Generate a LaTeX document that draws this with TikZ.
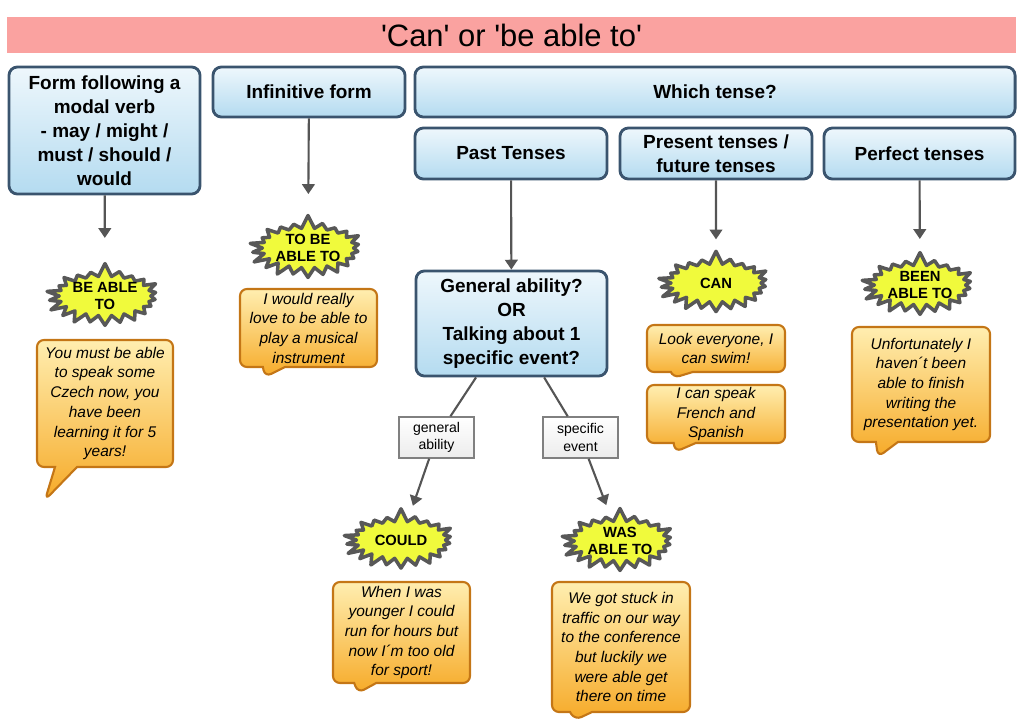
\documentclass[tikz,border=0pt]{standalone}
\usepackage{fontspec}
\setmainfont{Liberation Sans}
\newfontfamily\titlefont{Liberation Sans}[Ligatures=TeXOff]
\usetikzlibrary{shapes.symbols,shapes.callouts,arrows.meta}
\definecolor{T}{RGB}{250,162,160}
\definecolor{Bline}{RGB}{58,84,110}
\definecolor{Btop}{RGB}{238,247,252}
\definecolor{Bbot}{RGB}{180,219,240}
\definecolor{Star}{RGB}{240,250,60}
\definecolor{Sline}{RGB}{88,88,88}
\definecolor{Otop}{RGB}{255,238,176}
\definecolor{Obot}{RGB}{246,170,40}
\definecolor{Oline}{RGB}{196,118,22}
\definecolor{A}{RGB}{85,85,85}
\tikzset{
  tensebox/.style={draw=Bline,line width=2pt,rounded corners=6pt,top color=Btop,bottom color=Bbot,
    font=\fontsize{13.5}{17}\selectfont\bfseries,align=center,inner sep=2pt},
  smallbox/.style={draw=gray,line width=1pt,top color=white,bottom color=gray!15,
    font=\fontsize{10}{12.5}\selectfont,align=center,minimum width=1.875cm,minimum height=1.025cm,inner sep=1pt},
  burst/.style={starburst,starburst points=22,starburst point height=0.35cm,random starburst=7,
    draw=Sline,line width=2.5pt,line join=round,fill=Star,font=\fontsize{10.5}{12.5}\selectfont\bfseries,
    align=center,inner sep=0pt},
  speech/.style={rectangle callout,draw=Oline,line width=1.5pt,rounded corners=5pt,top color=Otop,bottom color=Obot,
    font=\fontsize{11}{14}\selectfont\itshape,align=center,inner sep=1pt,callout pointer width=0.55cm},
  arr/.style={draw=A,line width=1.5pt,-{Triangle[width=9pt,length=7pt]}},
  link/.style={draw=A,line width=1.5pt}
}
\begin{document}
\begin{tikzpicture}[x=0.025cm,y=-0.025cm]
\useasboundingbox (0,0) rectangle (1024,724);
\node[fill=T,minimum width=25.225cm,minimum height=0.9cm,font=\fontsize{22}{24}\selectfont\titlefont] (title) at (511.5,35) {'Can' or 'be able to'};
\node[tensebox,minimum width=4.775cm,minimum height=3.175cm] (form) at (104.5,130.5) {Form following a\\modal verb\\- may / might /\\must / should /\\would};
\node[tensebox,minimum width=4.8cm,minimum height=1.25cm] (infin) at (309,92) {Infinitive form};
\node[tensebox,minimum width=15cm,minimum height=1.25cm] (which) at (715,92) {Which tense?};
\node[tensebox,minimum width=4.8cm,minimum height=1.275cm] (past) at (511,153.5) {Past Tenses};
\node[tensebox,minimum width=4.8cm,minimum height=1.275cm] (present) at (716,153.5) {Present tenses /\\future tenses};
\node[tensebox,minimum width=4.775cm,minimum height=1.275cm] (perfect) at (919.5,153.5) {Perfect tenses};
\node[tensebox,minimum width=4.775cm,minimum height=2.625cm] (question) at (511.5,323.5) {General ability?\\OR\\Talking about 1\\specific event?};
\node[smallbox] (genab) at (436.5,437.5) {general\\ability};
\node[smallbox] (speev) at (580.5,437.5) {specific\\event};

\node[burst,minimum width=2.875cm,minimum height=1.65cm] (beable) at (105,296) {BE ABLE\\TO};
\node[burst,minimum width=2.925cm,minimum height=1.625cm] (tobe) at (308,248) {TO BE\\ABLE TO};
\node[burst,minimum width=2.95cm,minimum height=1.65cm] (can) at (716,283) {CAN};
\node[burst,minimum width=2.9cm,minimum height=1.675cm] (been) at (920,285) {BEEN\\ABLE TO};
\node[burst,minimum width=2.925cm,minimum height=1.625cm] (could) at (401,540) {COULD};
\node[burst,minimum width=2.9cm,minimum height=1.65cm] (was) at (620,541) {WAS\\ABLE TO};

\node[speech,minimum width=3.4cm,minimum height=3.175cm,callout absolute pointer={(45,500)}] (cmust) at (105,403.5) {You must be able\\to speak some\\Czech now, you\\have been\\learning it for 5\\years!};
\node[speech,minimum width=3.425cm,minimum height=1.95cm,callout absolute pointer={(265,377)}] (cwould) at (308.5,328) {I would really\\love to be able to\\play a musical\\instrument};
\node[speech,minimum width=3.45cm,minimum height=1.175cm,callout absolute pointer={(673,378)}] (cswim) at (716,348.5) {Look everyone, I\\can swim!};
\node[speech,minimum width=3.45cm,minimum height=1.45cm,callout absolute pointer={(675,452)}] (cspeak) at (716,414) {I can speak\\French and\\Spanish};
\node[speech,minimum width=3.45cm,minimum height=2.875cm,callout absolute pointer={(878,457)}] (cunfort) at (921,384.5) {Unfortunately I\\haven´t been\\able to finish\\writing the\\presentation yet.};
\node[speech,minimum width=3.425cm,minimum height=2.525cm,callout absolute pointer={(358,693)}] (cwhen) at (401.5,632.5) {When I was\\younger I could\\run for hours but\\now I´m too old\\for sport!};
\node[speech,minimum width=3.45cm,minimum height=3.25cm,callout absolute pointer={(575,720)}] (cstuck) at (621,647) {We got stuck in\\traffic on our way\\to the conference\\but luckily we\\were able get\\there on time};

\draw[arr,shorten >=0.55cm] (form) -- (beable);
\draw[arr,shorten >=0.45cm] (infin) -- (tobe);
\draw[arr] (past) -- (question);
\draw[arr,shorten >=0.2cm] (present) -- (can);
\draw[arr,shorten >=0.25cm] (perfect) -- (been);
\draw[link] (question) -- (genab);
\draw[link] (question) -- (speev);
\draw[arr,shorten >=0.35cm] (genab) -- (could);
\draw[arr,shorten >=0.35cm] (speev) -- (was);
\end{tikzpicture}
\end{document}
